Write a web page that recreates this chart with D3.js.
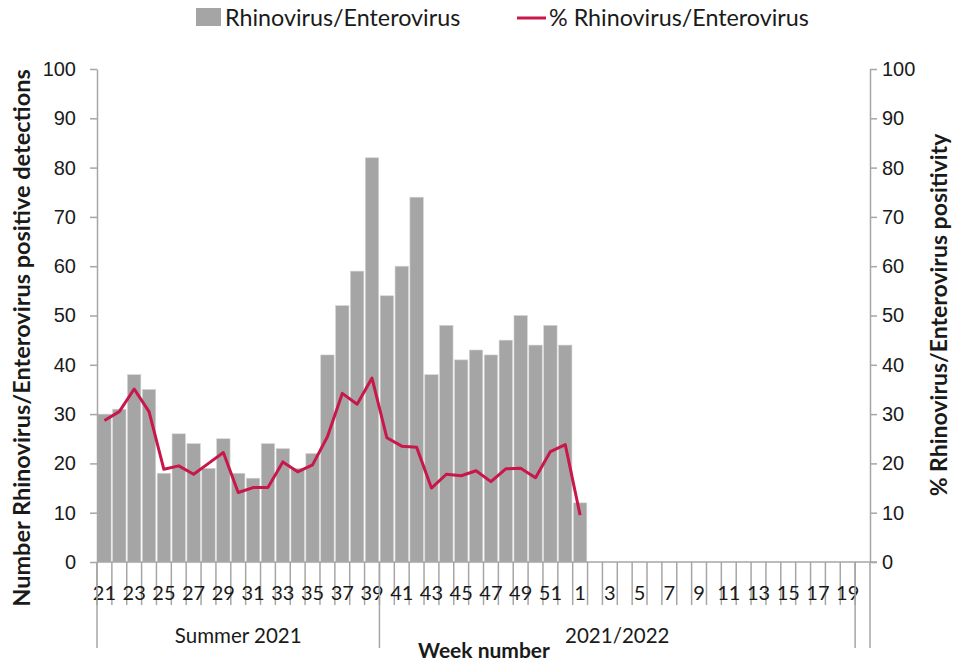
<!DOCTYPE html>
<html>
<head>
<meta charset="utf-8">
<script src="https://cdn.jsdelivr.net/npm/d3@7"></script>
<style>
  body { margin: 0; background: #fff; }
  svg { font-family: Lato, "Open Sans", sans-serif; }
</style>
</head>
<body>
<script>
// Week categories (2021 week 21 .. 2022 week 20)
const weeks = ['21','22','23','24','25','26','27','28','29','30','31','32','33','34','35','36','37','38','39','40',
  '41','42','43','44','45','46','47','48','49','50','51','52','1','2','3','4','5','6','7','8','9','10',
  '11','12','13','14','15','16','17','18','19','20'];

// Number of positive detections (bars)
const counts = [30, 31, 38, 35, 18, 26, 24, 19, 25, 18, 17, 24, 23, 19, 22, 42, 52, 59, 82, 54,
  60, 74, 38, 48, 41, 43, 42, 45, 50, 44, 48, 44, 12];

// % positivity (line)
const pct = [28.7, 30.5, 35.1, 30.5, 18.8, 19.5, 17.8, 20.0, 22.2, 14.1, 15.1, 15.1, 20.3, 18.3, 19.7, 25.4, 34.2, 32.0, 37.3, 25.2,
  23.5, 23.3, 15.0, 17.8, 17.5, 18.5, 16.3, 18.9, 19.0, 17.1, 22.4, 23.8, 9.5];

// Season groups under the axis
const groupLabels = ['Summer 2021', '2021/2022', ''];
const groupStart = ['21', '40', '20'];
const groupEnd = ['39', '19', '20'];

const yTicks = [0, 10, 20, 30, 40, 50, 60, 70, 80, 90, 100];

const width = 961;
const height = 662;
const margin = { top: 69, right: 91, bottom: 100, left: 97 };

const svg = d3.select('body').append('svg')
  .attr('width', width)
  .attr('height', height);

const x = d3.scaleBand().domain(weeks).range([margin.left, width - margin.right]).paddingInner(0.1).paddingOuter(0.05);
const xEdge = d3.scaleBand().domain(weeks).range([margin.left, width - margin.right]);
const yLeft = d3.scaleLinear().domain([0, 100]).range([height - margin.bottom, margin.top]);
const yRight = d3.scaleLinear().domain([0, 100]).range([height - margin.bottom, margin.top]);

const axisColor = '#a6a6a6';
const y0 = yLeft(0);

// bars
svg.append('g')
  .selectAll('rect')
  .data(counts)
  .enter().append('rect')
  .attr('x', (d, i) => x(weeks[i]))
  .attr('y', d => yLeft(d))
  .attr('width', x.bandwidth())
  .attr('height', d => y0 - yLeft(d))
  .attr('fill', '#a5a5a5')
  .attr('stroke', '#d4d4d4')
  .attr('stroke-width', 0.6);

// left axis
const leftAxis = svg.append('g')
  .attr('transform', `translate(${margin.left},0)`)
  .call(d3.axisLeft(yLeft).tickValues(yTicks).tickSize(7).tickPadding(14).tickSizeOuter(0));

// right axis
const rightAxis = svg.append('g')
  .attr('transform', `translate(${width - margin.right},0)`)
  .call(d3.axisRight(yRight).tickValues(yTicks).tickSize(7).tickPadding(5).tickSizeOuter(0));

[leftAxis, rightAxis].forEach(a => {
  a.select('.domain').attr('stroke', axisColor).attr('stroke-width', 1.5);
  a.selectAll('.tick line').attr('stroke', axisColor).attr('stroke-width', 1.5);
  a.selectAll('.tick text').attr('fill', '#1a1a1a').style('font-size', '20px');
});

// x axis line, ticks at each category boundary
const xAxisG = svg.append('g');
xAxisG.append('line')
  .attr('x1', margin.left).attr('x2', width - margin.right + 7)
  .attr('y1', y0).attr('y2', y0)
  .attr('stroke', axisColor).attr('stroke-width', 1.5);

xAxisG.selectAll('line.tk')
  .data(weeks)
  .enter().append('line')
  .attr('class', 'tk')
  .attr('x1', d => xEdge(d)).attr('x2', d => xEdge(d))
  .attr('y1', y0).attr('y2', y0 + 43)
  .attr('stroke', axisColor).attr('stroke-width', 1.5);

// week labels, every other category
xAxisG.selectAll('text.wk')
  .data(weeks.filter((d, i) => i % 2 === 0))
  .enter().append('text')
  .attr('class', 'wk')
  .attr('x', d => x(d) + x.bandwidth() / 2)
  .attr('y', y0 + 38)
  .attr('text-anchor', 'middle')
  .attr('fill', '#1a1a1a')
  .style('font-size', '20px')
  .text(d => d);

// group separators and labels
const groupEdges = [xEdge(groupStart[0])];
groupEnd.forEach(w => groupEdges.push(xEdge(w) + xEdge.bandwidth()));
xAxisG.selectAll('line.grp')
  .data(groupEdges)
  .enter().append('line')
  .attr('class', 'grp')
  .attr('x1', d => d).attr('x2', d => d)
  .attr('y1', y0).attr('y2', y0 + 86)
  .attr('stroke', axisColor).attr('stroke-width', 1.5);

xAxisG.selectAll('text.grp')
  .data(groupLabels)
  .enter().append('text')
  .attr('class', 'grp')
  .attr('x', (d, i) => (groupEdges[i] + groupEdges[i + 1]) / 2)
  .attr('y', y0 + 81)
  .attr('text-anchor', 'middle')
  .attr('fill', '#1a1a1a')
  .style('font-size', '20.5px')
  .text(d => d);

// line
const line = d3.line()
  .x((d, i) => x(weeks[i]) + x.bandwidth() / 2)
  .y(d => yRight(d));

svg.append('path')
  .datum(pct)
  .attr('d', line)
  .attr('fill', 'none')
  .attr('stroke', '#c8174a')
  .attr('stroke-width', 3)
  .attr('stroke-linejoin', 'round');

// axis titles
svg.append('text')
  .attr('transform', 'translate(30,338) rotate(-90)')
  .attr('text-anchor', 'middle')
  .attr('font-weight', 'bold')
  .style('font-size', '23.5px')
  .attr('fill', '#1a1a1a')
  .text('Number Rhinovirus/Enterovirus positive detections');

svg.append('text')
  .attr('transform', 'translate(947,315) rotate(-90)')
  .attr('text-anchor', 'middle')
  .attr('font-weight', 'bold')
  .style('font-size', '23px')
  .attr('fill', '#1a1a1a')
  .text('% Rhinovirus/Enterovirus positivity');

svg.append('text')
  .attr('x', 484)
  .attr('y', 658)
  .attr('text-anchor', 'middle')
  .attr('font-weight', 'bold')
  .style('font-size', '21px')
  .attr('fill', '#1a1a1a')
  .text('Week number');

// legend
const legend = svg.append('g');
legend.append('rect')
  .attr('x', 196).attr('y', 8).attr('width', 25).attr('height', 18)
  .attr('fill', '#a5a5a5');
legend.append('text')
  .attr('x', 225).attr('y', 26)
  .style('font-size', '23.3px')
  .attr('fill', '#1a1a1a')
  .text('Rhinovirus/Enterovirus');
legend.append('line')
  .attr('x1', 517).attr('x2', 546).attr('y1', 18).attr('y2', 18)
  .attr('stroke', '#c8174a').attr('stroke-width', 3);
legend.append('text')
  .attr('x', 549).attr('y', 26)
  .style('font-size', '23.3px')
  .attr('fill', '#1a1a1a')
  .text('% Rhinovirus/Enterovirus');
</script>
</body>
</html>
